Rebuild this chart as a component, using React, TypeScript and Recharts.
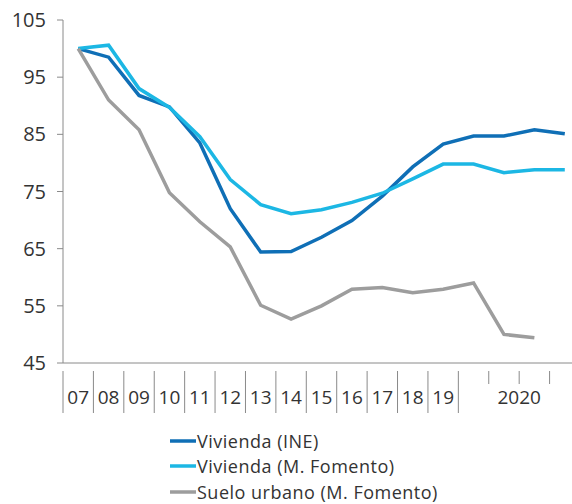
import { Line, LineChart, XAxis, YAxis } from "recharts";

const categories = ["07", "08", "09", "10", "11", "12", "13", "14", "15", "16", "17", "18", "19", "20T1", "20T2", "20T3", "20T4"];
const tickLabels = ["07", "08", "09", "10", "11", "12", "13", "14", "15", "16", "17", "18", "19", "", "", "", ""];
const yearLabel = "2020";
const yTicks = [45, 55, 65, 75, 85, 95, 105];

const viviendaIne = [100, 98.5, 91.8, 89.8, 83.5, 72, 64.4, 64.5, 67.0, 69.9, 74.2, 79.3, 83.3, 84.7, 84.7, 85.8, 85.1];
const viviendaFomento = [100, 100.6, 93.0, 89.7, 84.6, 77.1, 72.7, 71.1, 71.8, 73.1, 74.7, 77.2, 79.8, 79.8, 78.3, 78.8, 78.8];
const sueloUrbano = [100, 91.0, 85.8, 74.8, 69.7, 65.3, 55.1, 52.7, 55.0, 57.9, 58.2, 57.3, 57.9, 59.0, 50.0, 49.4, null];

const seriesInfo = [
  { key: "ine", name: "Vivienda (INE)", color: "#0f6fb6" },
  { key: "fomento", name: "Vivienda (M. Fomento)", color: "#1cb7e4" },
  { key: "suelo", name: "Suelo urbano (M. Fomento)", color: "#9d9d9d" },
];

const data = categories.map((c, i) => ({
  cat: c,
  ine: viviendaIne[i],
  fomento: viviendaFomento[i],
  suelo: sueloUrbano[i],
}));

const FONT = "'Open Sans', sans-serif";
const AXIS = "#8a8a8a";

const XTick = (props: any) => {
  const { x, y, payload, index } = props;
  const off = payload && payload.offset ? payload.offset : 15;
  const left = x - off;
  const isYear = index >= 14;
  return (
    <g>
      <line x1={left} x2={left} y1={y} y2={y + (isYear ? 13 : 42)} stroke={AXIS} strokeWidth={1} />
      {tickLabels[index] ? (
        <text x={x} y={y + 33} textAnchor="middle" fontSize={19} fill="#333" fontFamily={FONT}>
          {tickLabels[index]}
        </text>
      ) : null}
      {index === 14 ? (
        <text x={x + off} y={y + 33} textAnchor="middle" fontSize={19} fill="#333" fontFamily={FONT}>
          {yearLabel}
        </text>
      ) : null}
    </g>
  );
};

const LegendBox = () => (
  <div
    style={{
      position: "absolute",
      left: 170,
      top: 428,
      fontFamily: FONT,
      fontSize: 18,
      letterSpacing: 0.5,
      color: "#333",
    }}
  >
    {seriesInfo.map((s) => (
      <div key={s.key} style={{ display: "flex", alignItems: "center", height: 25.5, whiteSpace: "nowrap" }}>
        <svg width={26} height={6} style={{ marginRight: 1 }}>
          <line x1={0} x2={26} y1={3} y2={3} stroke={s.color} strokeWidth={3.5} />
        </svg>
        <span>{s.name}</span>
      </div>
    ))}
  </div>
);

export default function App() {
  return (
    <div style={{ position: "absolute", left: 0, top: 0, width: 572, height: 504, overflow: "hidden", background: "#fff" }}>
      {/* the last quarter's band runs past the right edge in the original, so the chart is a bit wider and clipped */}
      <LineChart width={580} height={504} data={data} margin={{ top: 20, right: 0, bottom: 101, left: 0 }}>
        <XAxis
          dataKey="cat"
          scale="band"
          interval={0}
          tickLine={false}
          axisLine={{ stroke: AXIS }}
          tick={<XTick />}
          height={40}
        />
        <YAxis
          domain={[45, 105]}
          ticks={yTicks}
          width={63}
          tickSize={6}
          tickLine={{ stroke: AXIS }}
          axisLine={{ stroke: AXIS }}
          tick={{ fill: "#333", fontSize: 20, fontFamily: FONT }}
          tickMargin={11}
        />
        {seriesInfo.map((s) => (
          <Line
            key={s.key}
            type="linear"
            dataKey={s.key}
            name={s.name}
            stroke={s.color}
            strokeWidth={3.5}
            dot={false}
            isAnimationActive={false}
          />
        ))}
      </LineChart>
      <LegendBox />
    </div>
  );
}
